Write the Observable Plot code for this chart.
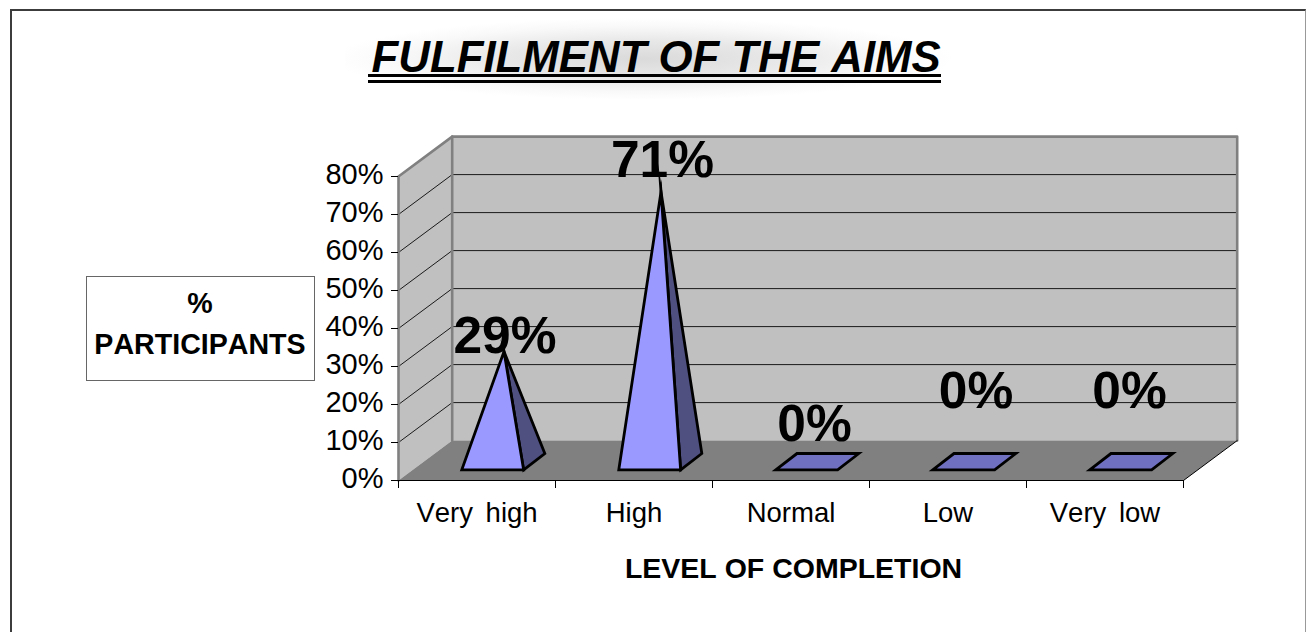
<!DOCTYPE html>
<html>
<head>
<meta charset="utf-8">
<script src="https://cdn.jsdelivr.net/npm/d3@7"></script>
<script src="https://cdn.jsdelivr.net/npm/@observablehq/plot@0.6"></script>
<style>
html,body{margin:0;padding:0;background:#fff;overflow:hidden;width:1306px;height:632px;font-family:"Liberation Sans",Arial,sans-serif;font-kerning:none}
#frame{position:absolute;left:10px;top:9px;width:1296px;height:700px;box-sizing:border-box;border:2px solid #3c3c3c;border-right:1.5px solid #999}
#glow{position:absolute;left:345px;top:18px;width:620px;height:82px;background:radial-gradient(ellipse 50% 50% at 48% 50%,#dadada 0%,#e8e8e8 45%,#f9f9f9 80%,#fff 100%);z-index:1}
#title{position:absolute;left:368px;top:35px;width:569.5px;height:39px;padding-left:3.5px;font:italic bold 43.8px/44px "Liberation Sans",Arial,sans-serif;font-kerning:none;color:#000;border-bottom:9px double #000;white-space:nowrap;z-index:2}
#ylab{position:absolute;left:85.5px;top:275.5px;width:229px;height:105px;box-sizing:border-box;border:1.5px solid #666;background:#fff;text-align:center;font:bold 28.6px/41px "Liberation Sans",Arial,sans-serif;font-kerning:none;padding-top:6px;z-index:2;white-space:nowrap}
#chart{position:absolute;left:0;top:0;z-index:1}
svg{background:transparent!important}
svg text{font-kerning:none}
g[aria-label="x-axis tick label"]{word-spacing:5px}
</style>
</head>
<body>
<div id="frame"></div>
<div id="glow"></div>
<div id="chart"></div>
<div id="title">FULFILMENT OF THE AIMS</div>
<div id="ylab">%<br>PARTICIPANTS</div>
<script>
const categories = ["Very high", "High", "Normal", "Low", "Very low"];
const values = [29, 71, 0, 0, 0];
const yTicks = [0, 10, 20, 30, 40, 50, 60, 70, 80];
const slots = [0, 1, 2, 3, 4, 5];

// Oblique depth of the 3-D box, in data units
const depthX = 0.342, depthY = 10.5;
const halfWidth = 0.197;
const frontX = 0.1, frontY = 2.8, backX = 0.235, backY = 7.1;
const apexX = 0.172, apexY = 4.95;

const poly = (id, pts) => pts.map(([x, y]) => ({id, x, y}));

const backWall = poly("b", [[depthX, depthY], [5 + depthX, depthY], [5 + depthX, 80 + depthY], [depthX, 80 + depthY]]);
const sideWall = poly("s", [[0, 0], [depthX, depthY], [depthX, 80 + depthY], [0, 80]]);
const floor = poly("f", [[0, 0], [5, 0], [5 + depthX, depthY], [depthX, depthY]]);

const backGrid = yTicks.slice(1).flatMap(v => poly("g" + v, [[depthX, v + depthY], [5 + depthX, v + depthY]]));
const sideGrid = yTicks.slice(1).flatMap(v => poly("h" + v, [[0, v], [depthX, v + depthY]]));

const rows = categories.map((c, i) => ({c, i, v: values[i], cx: i + 0.5}));
const tall = rows.filter(d => d.v > 0);
const flat = rows.filter(d => d.v === 0);

const frontFaces = tall.flatMap(d => poly("ff" + d.i, [
  [d.cx + frontX - halfWidth, frontY], [d.cx + frontX + halfWidth, frontY], [d.cx + apexX, apexY + d.v]]));
const sideFaces = tall.flatMap(d => poly("sf" + d.i, [
  [d.cx + frontX + halfWidth, frontY], [d.cx + backX + halfWidth, backY], [d.cx + apexX, apexY + d.v]]));
const flatFaces = flat.flatMap(d => poly("fl" + d.i, [
  [d.cx + frontX - halfWidth, frontY], [d.cx + frontX + halfWidth, frontY],
  [d.cx + backX + halfWidth, backY], [d.cx + backX - halfWidth, backY]]));

const face = (data, fill, stroke, strokeWidth) => Plot.line(data, {
  x: "x", y: "y", z: "id", fill, stroke, strokeWidth,
  curve: "linear-closed", strokeLinejoin: "miter", strokeMiterlimit: 30
});
const edge = (data, stroke, strokeWidth) => Plot.line(data, {x: "x", y: "y", z: "id", stroke, strokeWidth});
const label = (data, dx, dy) => Plot.text(data, {
  x: d => d.cx + apexX, y: d => apexY + d.v, text: d => d.v + "%",
  dx, dy, fontSize: 51.5, fontWeight: "bold", fill: "#000", lineAnchor: "bottom", textAnchor: "middle"
});

const chart = Plot.plot({
  width: 1306, height: 632,
  marginLeft: 398, marginRight: 123, marginTop: 176, marginBottom: 152,
  style: {fontFamily: "'Liberation Sans', Arial, sans-serif", background: "transparent", overflow: "visible"},
  x: {domain: [0, 5], axis: null},
  y: {domain: [0, 80], axis: null},
  marks: [
    face(backWall, "#c0c0c0", "none", 0),
    face(sideWall, "#c0c0c0", "none", 0),
    face(floor, "#808080", "none", 0),
    edge(backGrid, "#1a1a1a", 1),
    edge(sideGrid, "#1a1a1a", 1),
    edge(poly("e1", [[depthX, depthY], [depthX, 80 + depthY], [5 + depthX, 80 + depthY], [5 + depthX, depthY]]), "#808080", 2.6),
    edge(poly("e2", [[0, 0], [0, 80], [depthX, 80 + depthY]]), "#808080", 2.6),
    edge(poly("e3", [[5, 0], [5 + depthX, depthY]]), "#000", 1),
    edge(poly("e4", [[0, 0], [5, 0]]), "#000", 1.2),
    face(sideFaces, "#4f4f80", "#000", 2.8),
    face(frontFaces, "#9999ff", "#000", 2.8),
    face(flatFaces, "#7070c0", "#000", 2.8),
    label(rows.slice(0, 1), 1, 2),
    label(rows.slice(1, 2), 1.5, -15),
    label(rows.slice(2, 3), -3.5, -21),
    label(rows.slice(3, 4), 1, -54),
    label(rows.slice(4, 5), -2.5, -54),
    Plot.axisY({
      ticks: yTicks, tickSize: 7, tickFormat: () => "", stroke: "#000", label: null
    }),
    Plot.axisY({
      ticks: yTicks, tickSize: 0, tickPadding: 15, dy: -2, fontSize: 29,
      fill: "#000", tickFormat: d => d + "%", label: null
    }),
    Plot.axisX({
      ticks: slots, tickSize: 8, tickFormat: () => "", stroke: "#000", label: null
    }),
    Plot.axisX({
      ticks: rows.map(d => d.cx), tickSize: 0, tickPadding: 22, fontSize: 27.5, fill: "#000",
      tickFormat: d => categories[d - 0.5], label: null
    }),
    Plot.text(["LEVEL OF COMPLETION"], {
      frameAnchor: "bottom", dx: 2.5, dy: 97, fontSize: 28.5, fontWeight: "bold", fill: "#000",
      text: d => d, lineAnchor: "bottom"
    })
  ]
});
document.getElementById("chart").appendChild(chart);
</script>
</body>
</html>
